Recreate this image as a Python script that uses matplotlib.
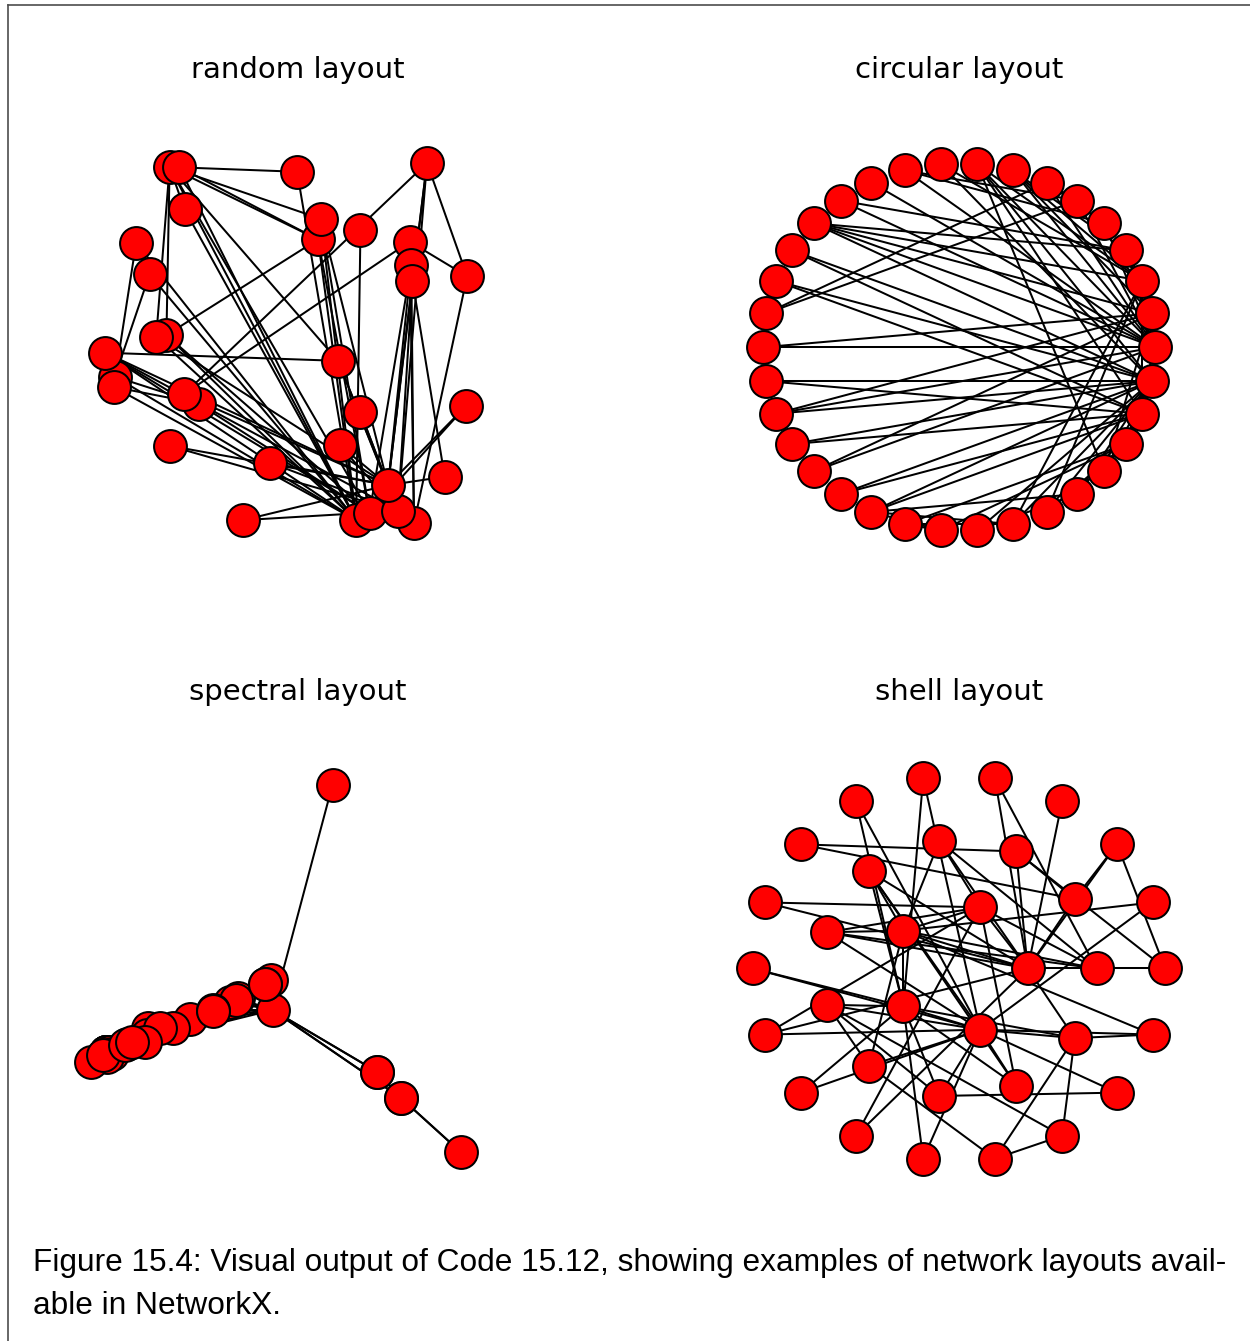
import numpy as np
import matplotlib
matplotlib.use('Agg')
import matplotlib.pyplot as plt
from matplotlib.collections import LineCollection
from matplotlib.lines import Line2D

# Zachary karate club graph (34 nodes, 78 edges)
edges = [(0, 1), (0, 2), (0, 3), (0, 4), (0, 5), (0, 6), (0, 7), (0, 8), (0, 10),
         (0, 11), (0, 12), (0, 13), (0, 17), (0, 19), (0, 21), (0, 31),
         (1, 2), (1, 3), (1, 7), (1, 13), (1, 17), (1, 19), (1, 21), (1, 30),
         (2, 3), (2, 7), (2, 8), (2, 9), (2, 13), (2, 27), (2, 28), (2, 32),
         (3, 7), (3, 12), (3, 13), (4, 6), (4, 10), (5, 6), (5, 10), (5, 16),
         (6, 16), (8, 30), (8, 32), (8, 33), (9, 33), (13, 33), (14, 32),
         (14, 33), (15, 32), (15, 33), (18, 32), (18, 33), (19, 33), (20, 32),
         (20, 33), (22, 32), (22, 33), (23, 25), (23, 27), (23, 29), (23, 32),
         (23, 33), (24, 25), (24, 27), (24, 31), (25, 31), (26, 29), (26, 33),
         (27, 33), (28, 31), (28, 33), (29, 32), (29, 33), (30, 32), (30, 33),
         (31, 32), (31, 33), (32, 33)]
n_nodes = 34

# node positions of the random layout (node 0..33)
random_x = [0.649, 0.175, 0.683, 0.552, 0.090, 0.036, 0.033, 0.167, 0.012, 0.929,
            0.124, 0.660, 0.199, 0.559, 0.431, 0.362, 0.249, 0.213, 0.175, 0.141,
            0.659, 0.499, 0.607, 0.829, 0.785, 0.931, 0.874, 0.211, 0.789, 0.792,
            0.603, 0.796, 0.755, 0.730]
random_y = [0.028, 0.988, 0.048, 0.791, 0.782, 0.418, 0.390, 0.531, 0.483, 0.339,
            0.696, 0.818, 0.988, 0.847, 0.184, 0.028, 0.345, 0.873, 0.230, 0.526,
            0.323, 0.975, 0.232, 0.999, 0.785, 0.691, 0.146, 0.370, 0.721, 0.679,
            0.461, 0.019, 0.053, 0.123]

# shells used for the shell layout
shells = [[0, 1, 2, 32, 33],
          [3, 5, 6, 7, 8, 13, 23, 27, 29, 30, 31],
          [4, 9, 10, 11, 12, 14, 15, 16, 17, 18, 19, 20, 21, 22, 24, 25, 26, 28]]

titles = ['random layout', 'circular layout', 'spectral layout', 'shell layout']
caption = ['Figure 15.4: Visual output of Code 15.12, showing examples of network layouts avail-',
           'able in NetworkX.']


def rescale(pos):
    pos = pos - pos.min(axis=0)
    return pos / pos.max()


def circular_pos(n):
    t = np.arange(n) * 2 * np.pi / n
    return rescale(np.column_stack([np.cos(t), np.sin(t)]))


def shell_pos(nlist, n):
    pos = np.zeros((n, 2))
    for r, nodes in enumerate(nlist, 1):
        t = np.arange(len(nodes)) * 2 * np.pi / len(nodes)
        pos[nodes] = np.column_stack([np.cos(t), np.sin(t)]) * r
    return pos


def spectral_pos(edge_list, n):
    A = np.zeros((n, n))
    for a, b in edge_list:
        A[a, b] = A[b, a] = 1
    L = np.diag(A.sum(axis=1)) - A
    _, vecs = np.linalg.eigh(L)
    pos = vecs[:, 1:3].copy()
    # orientation as in the figure: node 16 to the right, node 11 on top
    if pos[16, 0] < pos[:, 0].mean():
        pos[:, 0] *= -1
    if pos[11, 1] < pos[:, 1].mean():
        pos[:, 1] *= -1
    return rescale(pos)


layouts = [np.column_stack([random_x, random_y]),
           circular_pos(n_nodes),
           spectral_pos(edges, n_nodes),
           shell_pos(shells, n_nodes)]
xlims = [(-0.2, 1.2), (-0.2, 1.2), (-0.1, 0.7), (-4, 4)]
ylims = [(-0.2, 1.2), (-0.2, 1.2), (-0.2, 1.2), (-4, 4)]

W, H = 1250, 1341
fig = plt.figure(figsize=(W / 100, H / 100), dpi=100)

# axes boxes in pixels: (left, top, right, bottom)
boxes = [(22, 89, 573, 604), (684, 89, 1234, 604),
         (22, 711, 573, 1226), (684, 711, 1234, 1226)]

for pos, title, box, xl, yl in zip(layouts, titles, boxes, xlims, ylims):
    l, t, r, b = box
    ax = fig.add_axes([l / W, 1 - b / H, (r - l) / W, (b - t) / H])
    segs = [[pos[a], pos[c]] for a, c in edges]
    ax.add_collection(LineCollection(segs, colors='k', linewidths=1.45, zorder=1))
    ax.scatter(pos[:, 0], pos[:, 1], s=560, c='#ff0000', edgecolors='k',
               linewidths=1.45, zorder=2, clip_on=False)
    ax.set_xlim(xl)
    ax.set_ylim(yl)
    ax.set_title(title, fontsize=21, pad=8)
    ax.axis('off')

for line, base in zip(caption, [1271, 1314]):
    fig.text(33 / W, 1 - base / H, line, fontsize=22.8, family=['Liberation Sans'],
             ha='left', va='baseline')

# frame of the page
frame = dict(color='#4d4d4d', linewidth=1.2, transform=fig.transFigure)
fig.add_artist(Line2D([8 / W, 1], [1 - 5 / H, 1 - 5 / H], **frame))
fig.add_artist(Line2D([8 / W, 8 / W], [0, 1 - 5 / H], **frame))

fig.savefig('out.png', dpi=100)
